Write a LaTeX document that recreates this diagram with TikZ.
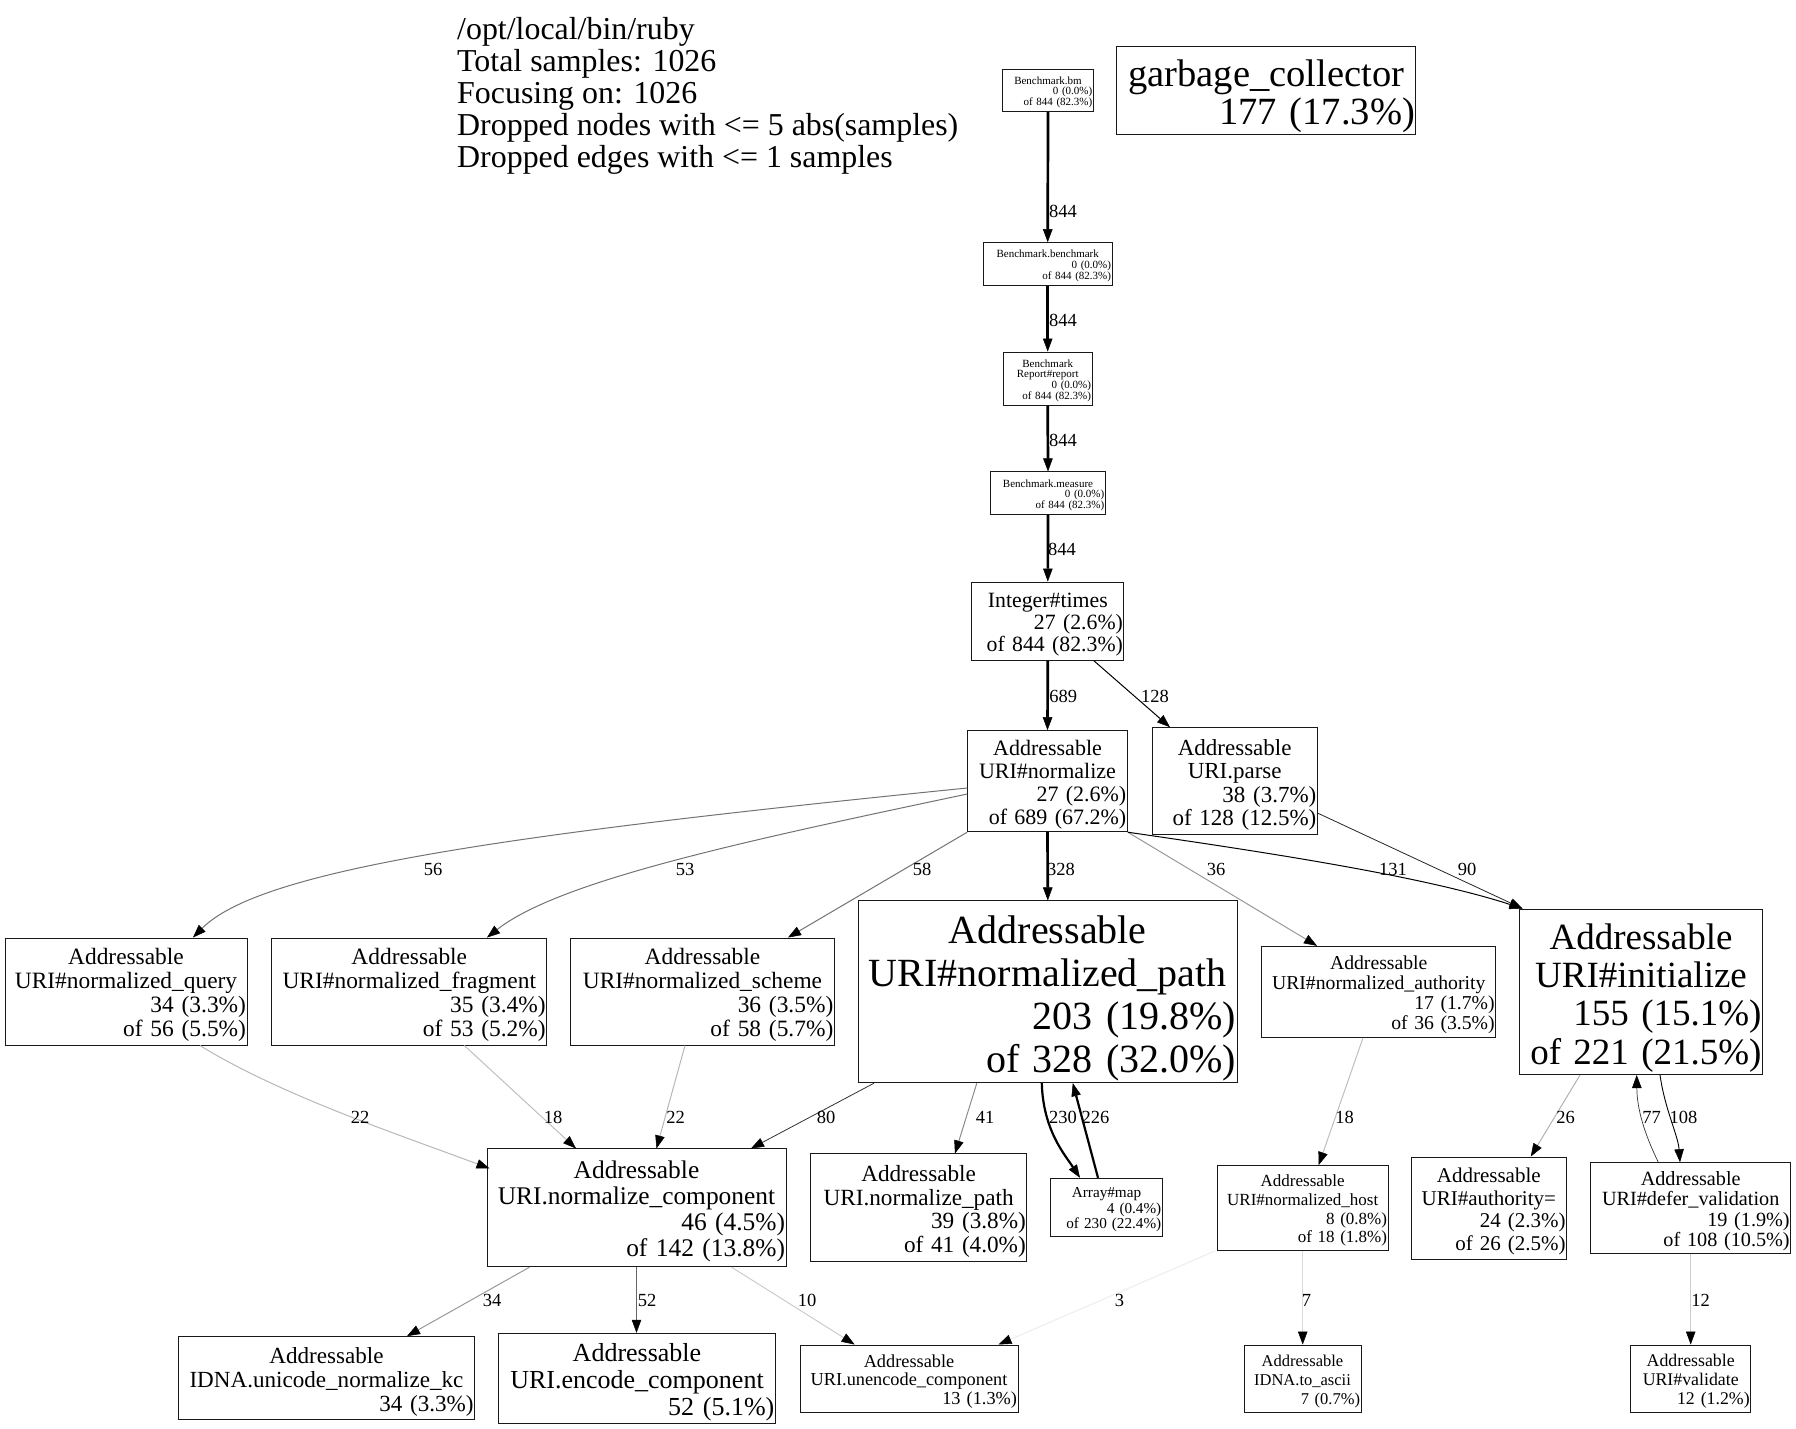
\documentclass[tikz,border=0pt]{standalone}
\usepackage{fontspec}
\setmainfont{Liberation Serif}
\usetikzlibrary{arrows.meta,calc}
\setlength{\parindent}{0pt}
\newcommand\fsz[2]{\fontsize{#1}{#2}\selectfont}
\newcommand\cl[1]{\makebox[\hsize][c]{#1}}
\newcommand\rl[1]{\makebox[\hsize][r]{#1}}
\tikzset{
  box/.style={draw=black!90, line width=1pt, rectangle, inner sep=0pt, fill=white},
  txt/.style={inner sep=0pt},
  lbl/.style={inner sep=0pt, font=\fsz{18.5}{18.5}},
  e/.style={line width=#1, -{Triangle[length=13pt,width=9.5pt,color=black,line width=0.5pt]}},
}
% call-graph node: name, x, y, width, height, font size, line pitch, text
\newcommand\gn[8]{%
  \node[box, minimum width=#4pt, minimum height=#5pt] (#1) at (#2,#3) {};
  \pgfmathsetmacro\gntw{#4-2}%
  \node[txt, text width=\gntw pt, font=\fsz{#6}{#7}] (#1-t) at ($(#1.center)+(0,0.16*#6)$) {#8};
}
\begin{document}
\begin{tikzpicture}[x=1pt,y=-1pt]
\fill[white] (0,0) rectangle (1796,1429);
\useasboundingbox (0,0) rectangle (1796,1429);

% header
\node[anchor=north west, inner sep=0pt, align=left, font=\fsz{31.9}{32}] (hdr) at (457,17.5)
  {/opt/local/bin/ruby\\Total samples: 1026\\Focusing on: 1026\\Dropped nodes with <= 5 abs(samples)\\Dropped edges with <= 1 samples};

% call graph nodes
\gn{bm}{1048}{90.5}{90.6}{42.4}{11}{10.7}
  {\cl{Benchmark.bm}\\\rl{0 (0.0\%)}\\\rl{of 844 (82.3\%)}}
\gn{gc}{1266.3}{90.5}{299.3}{87}{38.5}{38}
  {\cl{garbage\_collector}\\\rl{177 (17.3\%)}}
\gn{bmk}{1047.7}{264}{128.7}{42.6}{11}{10.7}
  {\cl{Benchmark.benchmark}\\\rl{0 (0.0\%)}\\\rl{of 844 (82.3\%)}}
\gn{rep}{1047.7}{378.7}{88.7}{53.3}{11}{10.7}
  {\cl{Benchmark}\\\cl{Report\#report}\\\rl{0 (0.0\%)}\\\rl{of 844 (82.3\%)}}
\gn{meas}{1048}{493.3}{114.6}{42.7}{11}{10.7}
  {\cl{Benchmark.measure}\\\rl{0 (0.0\%)}\\\rl{of 844 (82.3\%)}}
\gn{times}{1047.8}{621.2}{152.3}{78.3}{21.8}{22.3}
  {\cl{Integer\#times}\\\rl{27 (2.6\%)}\\\rl{of 844 (82.3\%)}}
\gn{norm}{1047.5}{781.2}{159.6}{101}{22}{22.7}
  {\cl{Addressable}\\\cl{URI\#normalize}\\\rl{27 (2.6\%)}\\\rl{of 689 (67.2\%)}}
\gn{parse}{1234.7}{781.2}{165.3}{107}{23}{23.3}
  {\cl{Addressable}\\\cl{URI.parse}\\\rl{38 (3.7\%)}\\\rl{of 128 (12.5\%)}}
\gn{nq}{126}{991.5}{242}{107}{23.4}{24}
  {\cl{Addressable}\\\cl{URI\#normalized\_query}\\\rl{34 (3.3\%)}\\\rl{of 56 (5.5\%)}}
\gn{nfrag}{409.3}{991.5}{274.7}{107}{23.4}{24}
  {\cl{Addressable}\\\cl{URI\#normalized\_fragment}\\\rl{35 (3.4\%)}\\\rl{of 53 (5.2\%)}}
\gn{nscheme}{702.5}{991.5}{263.6}{107}{23.4}{24}
  {\cl{Addressable}\\\cl{URI\#normalized\_scheme}\\\rl{36 (3.5\%)}\\\rl{of 58 (5.7\%)}}
\gn{npath}{1047.8}{991.8}{378.5}{181.7}{40}{43}
  {\cl{Addressable}\\\cl{URI\#normalized\_path}\\\rl{203 (19.8\%)}\\\rl{of 328 (32.0\%)}}
\gn{nauth}{1378.7}{991.8}{234}{91}{19.7}{20}
  {\cl{Addressable}\\\cl{URI\#normalized\_authority}\\\rl{17 (1.7\%)}\\\rl{of 36 (3.5\%)}}
\gn{init}{1641}{991.8}{243}{165.5}{37}{38.3}
  {\cl{Addressable}\\\cl{URI\#initialize}\\\rl{155 (15.1\%)}\\\rl{of 221 (21.5\%)}}
\gn{ncomp}{636.5}{1207.8}{299}{117.7}{25.4}{26}
  {\cl{Addressable}\\\cl{URI.normalize\_component}\\\rl{46 (4.5\%)}\\\rl{of 142 (13.8\%)}}
\gn{npath2}{918.6}{1207.8}{216.4}{107.7}{23.2}{23.5}
  {\cl{Addressable}\\\cl{URI.normalize\_path}\\\rl{39 (3.8\%)}\\\rl{of 41 (4.0\%)}}
\gn{amap}{1106.5}{1207.5}{111.6}{58.4}{15.2}{15.5}
  {\cl{Array\#map}\\\rl{4 (0.4\%)}\\\rl{of 230 (22.4\%)}}
\gn{nhost}{1302.7}{1208}{170.7}{85}{17}{18.7}
  {\cl{Addressable}\\\cl{URI\#normalized\_host}\\\rl{8 (0.8\%)}\\\rl{of 18 (1.8\%)}}
\gn{autheq}{1488.8}{1208}{155.5}{102}{21}{22.7}
  {\cl{Addressable}\\\cl{URI\#authority=}\\\rl{24 (2.3\%)}\\\rl{of 26 (2.5\%)}}
\gn{defer}{1690.7}{1208}{200}{90.6}{20.2}{20.3}
  {\cl{Addressable}\\\cl{URI\#defer\_validation}\\\rl{19 (1.9\%)}\\\rl{of 108 (10.5\%)}}
\gn{kc}{326.5}{1378.3}{296.2}{83.3}{23.1}{23.7}
  {\cl{Addressable}\\\cl{IDNA.unicode\_normalize\_kc}\\\rl{34 (3.3\%)}}
\gn{enc}{637}{1378.3}{276.7}{90}{26}{27}
  {\cl{Addressable}\\\cl{URI.encode\_component}\\\rl{52 (5.1\%)}}
\gn{unenc}{909}{1378.5}{218}{67}{18.3}{18.5}
  {\cl{Addressable}\\\cl{URI.unencode\_component}\\\rl{13 (1.3\%)}}
\gn{ascii}{1302.5}{1378.5}{117}{67}{16.5}{19}
  {\cl{Addressable}\\\cl{IDNA.to\_ascii}\\\rl{7 (0.7\%)}}
\gn{valid}{1690.7}{1378.5}{120}{67}{17.8}{19}
  {\cl{Addressable}\\\cl{URI\#validate}\\\rl{12 (1.2\%)}}

% edges
\draw[e=2.7pt] (bm.south) -- (bmk.north);
\draw[e=2.7pt] (bmk.south) -- (rep.north);
\draw[e=2.7pt] (rep.south) -- (meas.north);
\draw[e=2.7pt] (meas.south) -- (times.north);
\draw[e=2.7pt] (times.south) -- (norm.north);
\draw[e=1pt] ($(times.south)+(46.2,0)$) -- ($(parse.north)+(-64.7,0)$);
\draw[e=1pt, draw=black!55] ($(norm.west)+(0,6.8)$) .. controls (500,835) and (260,870) .. ($(nq.north)+(67,0)$);
\draw[e=1pt, draw=black!55] ($(norm.west)+(0,12.8)$) .. controls (750,840) and (560,880) .. ($(nfrag.north)+(77.7,0)$);
\draw[e=1pt, draw=black!55] (norm.south west) -- ($(nscheme.north)+(85.5,0)$);
\draw[e=2.7pt] (norm.south) -- (npath.north);
\draw[e=1pt, draw=black!40] (norm.south east) -- ($(nauth.north)+(-61.7,0)$);
\draw[e=1pt] (norm.south east) .. controls (1250,850) and (1420,875) .. ($(init.north west)+(3.5,0)$);
\draw[e=0.8pt, draw=black!85] ($(parse.east)+(0,32)$) -- ($(init.north west)+(3.5,0)$);
\draw[e=1pt, draw=black!28] ($(nq.south)+(74,0)$) .. controls (280,1095) and (400,1135) .. ($(ncomp.north west)+(3,20)$);
\draw[e=1pt, draw=black!25] ($(nfrag.south)+(55,0)$) -- ($(ncomp.north)+(-60.5,0)$);
\draw[e=1pt, draw=black!28] ($(nscheme.south)+(-17.5,0)$) -- ($(ncomp.north)+(20,0)$);
\draw[e=0.8pt, draw=black!80] ($(npath.south west)+(16,0)$) -- ($(ncomp.north)+(114.5,0)$);
\draw[e=1pt, draw=black!45] ($(npath.south)+(-71,0)$) -- ($(npath2.north)+(36.4,0)$);
\draw[e=2.2pt] ($(npath.south)+(-6,0)$) .. controls (1043,1130) and (1065,1155) .. ($(amap.north)+(-26.5,0)$);
\draw[e=2.2pt] ($(amap.north)+(-8.5,0)$) -- ($(npath.south)+(25,0)$);
\draw[e=1pt, draw=black!25] ($(nauth.south)+(-15.7,0)$) -- ($(nhost.north)+(16,0)$);
\draw[e=1pt, draw=black!30] ($(init.south west)+(61,0)$) -- ($(autheq.north)+(42,0)$);
\draw[e=0.7pt, draw=black!80] ($(defer.north)+(-32.4,0)$) .. controls (1645,1135) and (1637,1110) .. ($(init.south)+(-4.3,0)$);
\draw[e=0.9pt] ($(init.south)+(19,0)$) .. controls (1665,1110) and (1678,1135) .. ($(defer.north)+(-10.7,0)$);
\draw[e=1pt, draw=black!40] ($(ncomp.south west)+(43,0)$) -- ($(kc.north)+(80.5,0)$);
\draw[e=1pt, draw=black!60] (ncomp.south) -- (ncomp.south |- enc.north);
\draw[e=1pt, draw=black!20] ($(ncomp.south east)+(-55,0)$) -- ($(unenc.north)+(-54.4,0)$);
\draw[e=1pt, draw=black!7] ($(nhost.south west)+(-2,0)$) -- ($(unenc.north east)+(-20,0)$);
\draw[e=1pt, draw=black!15] (nhost.south) -- (nhost.south |- ascii.north);
\draw[e=1pt, draw=black!20] (defer.south) -- (defer.south |- valid.north);

% edge labels
\node[lbl] (l1) at (1063,211) {844};
\node[lbl] (l2) at (1063,320) {844};
\node[lbl] (l3) at (1063,440) {844};
\node[lbl] (l4) at (1062,549) {844};
\node[lbl] (l5) at (1063.3,696) {689};
\node[lbl] (l6) at (1155,696) {128};
\node[lbl] (l7) at (433,869) {56};
\node[lbl] (l8) at (685,869) {53};
\node[lbl] (l9) at (922,869) {58};
\node[lbl] (l10) at (1061,869) {328};
\node[lbl] (l11) at (1216,869) {36};
\node[lbl] (l12) at (1393,869) {131};
\node[lbl] (l13) at (1467,869) {90};
\node[lbl] (l14) at (360,1117) {22};
\node[lbl] (l15) at (553,1117) {18};
\node[lbl] (l16) at (675.5,1117) {22};
\node[lbl] (l17) at (826,1117) {80};
\node[lbl] (l18) at (985,1117) {41};
\node[lbl] (l19) at (1063,1117) {230};
\node[lbl] (l20) at (1095.5,1117) {226};
\node[lbl] (l21) at (1344.7,1117) {18};
\node[lbl] (l22) at (1565.5,1117) {26};
\node[lbl] (l23) at (1651.5,1117) {77};
\node[lbl] (l24) at (1683.5,1117) {108};
\node[lbl] (l25) at (492,1300.7) {34};
\node[lbl] (l26) at (647,1300.7) {52};
\node[lbl] (l27) at (807,1300.7) {10};
\node[lbl] (l28) at (1119.6,1300.7) {3};
\node[lbl] (l29) at (1306.6,1300.7) {7};
\node[lbl] (l30) at (1700.6,1300.7) {12};
\end{tikzpicture}
\end{document}
